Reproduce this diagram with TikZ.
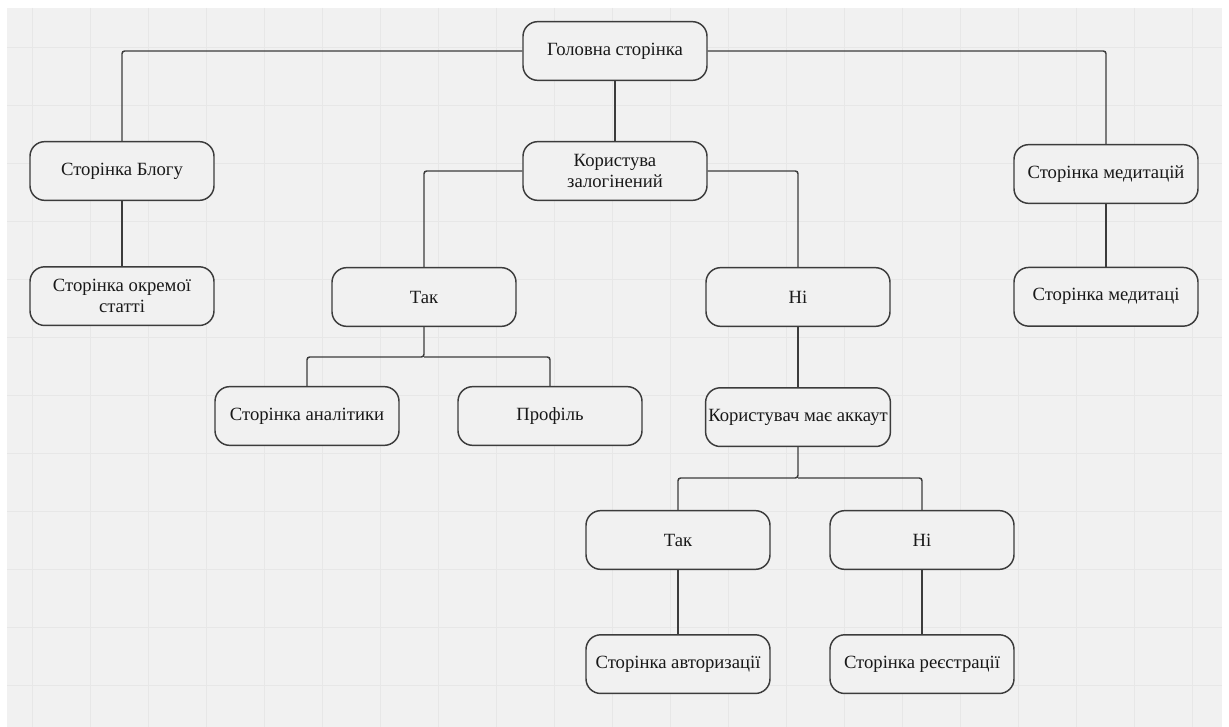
\documentclass[tikz,border=0pt]{standalone}
\usepackage{fontspec}
\setmainfont{Liberation Serif}
\usepackage{xcolor}
\usepackage{tikz}
\usetikzlibrary{positioning,calc}

\definecolor{bgcol}{HTML}{F1F1F1}
\definecolor{gridcol}{HTML}{E7E7E7}
\definecolor{linecol}{HTML}{3C3C3C}

\tikzset{
    pagebox/.style={draw=linecol, fill=bgcol, rectangle, rounded corners=11pt, line width=1.1pt,
        minimum width=138pt, minimum height=44pt, inner sep=2pt, align=center,
        text=black!90, font=\fontsize{14}{16}\selectfont},
    link/.style={draw=linecol, line width=1.1pt, rounded corners=2pt}
}

\begin{document}
\begin{tikzpicture}[x=0.75pt, y=-0.75pt]
    \useasboundingbox (0,0) rectangle (1229,727);
    % background grid
    \fill[white] (0,0) rectangle (1229,727);
    \fill[bgcol] (7,8) rectangle (1222,727);
    \foreach \gx in {32,90,...,1212}
        \draw[gridcol, line width=0.6pt] (\gx,8) -- (\gx,727);
    \foreach \gy in {47,105,...,720}
        \draw[gridcol, line width=0.6pt] (7,\gy) -- (1222,\gy);

    \node [pagebox] (home) at (615,51) {Головна сторінка};
    \node [pagebox] (blog) at (122,171) {Сторінка Блогу};
    \node [pagebox, below=48.75pt of blog] (article) {Сторінка окремої\\статті};
    \node [pagebox] (logged) at (615,171) {Користува\\залогінений};
    \node [pagebox] (meditations) at (1106,174) {Сторінка медитацій};
    \node [pagebox, below=47pt of meditations] (meditation) {Сторінка медитаці};

    \node [pagebox] (yes) at (424,297) {Так};
    \node [pagebox] (no) at (798,297) {Ні};
    \node [pagebox] (analytics) at (307,416) {Сторінка аналітики};
    \node [pagebox] (profile) at (550,416) {Профіль};
    \node [pagebox, below=45pt of no] (hasacc) {Користувач має аккаут};

    \node [pagebox] (yesacc) at (678,540) {Так};
    \node [pagebox] (noacc) at (922,540) {Ні};
    \node [pagebox, below=48pt of yesacc] (login) {Сторінка авторизації};
    \node [pagebox, below=48pt of noacc] (register) {Сторінка реєстрації};

    \coordinate (split1) at (424,357);
    \coordinate (split2) at (798,478);

    \draw [link] (home.west) -| (blog.north);
    \draw [link] (home.east) -| (meditations.north);
    \draw [link] (home) -- (logged);
    \draw [link] (blog) -- (article);
    \draw [link] (meditations) -- (meditation);
    \draw [link] (logged.west) -| (yes.north);
    \draw [link] (logged.east) -| (no.north);
    \draw [link] (yes.south) -- (split1) -| (analytics.north);
    \draw [link] (split1) -| (profile.north);
    \draw [link] (no) -- (hasacc);
    \draw [link] (hasacc.south) -- (split2) -| (yesacc.north);
    \draw [link] (split2) -| (noacc.north);
    \draw [link] (yesacc) -- (login);
    \draw [link] (noacc) -- (register);
\end{tikzpicture}
\end{document}
